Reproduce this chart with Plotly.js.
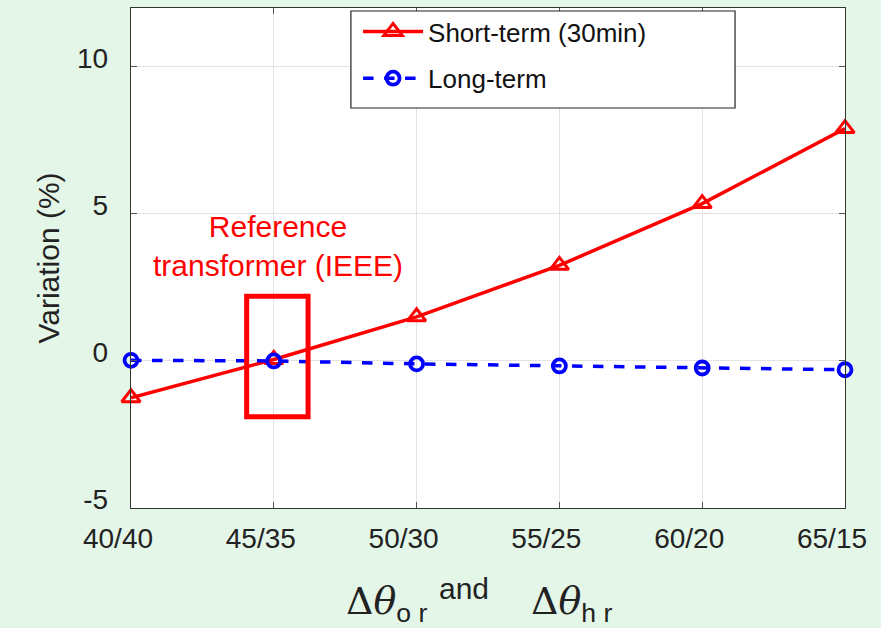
<!DOCTYPE html>
<html>
<head>
<meta charset="utf-8">
<script src="https://cdn.plot.ly/plotly-3.0.1.min.js"></script>
<style>html,body{margin:0;padding:0;background:#e4f6e8;}#chart{width:881px;height:628px;}</style>
</head>
<body>
<div id="chart"></div>
<script>
const categories = ["40/40", "45/35", "50/30", "55/25", "60/20", "65/15"];
const shortTerm = [-1.25, 0.05, 1.5, 3.25, 5.35, 7.9];
const longTerm = [0.02, 0.0, -0.1, -0.17, -0.24, -0.3];
const seriesNames = ["Short-term (30min)", "Long-term"];
const yTicks = [-5, 0, 5, 10];
const yTickLabels = ["-5", "0", "5", "10"];

const xIdx = categories.map((c, i) => i);

const traces = [
  {
    x: xIdx, y: shortTerm, name: seriesNames[0], type: "scatter", mode: "lines+markers",
    line: {color: "#ff0000", width: 3.5},
    marker: {symbol: "triangle-up-open", size: 16, color: "#ff0000", line: {width: 3, color: "#ff0000"}},
    legendgroup: "a", cliponaxis: false
  },
  {
    x: xIdx, y: longTerm, name: seriesNames[1], type: "scatter", mode: "lines+markers",
    line: {color: "#0000ff", width: 3.5, dash: "dash"},
    marker: {symbol: "circle-open", size: 13, color: "#0000ff", line: {width: 3.8, color: "#0000ff"}},
    legendgroup: "b", cliponaxis: false
  }
];

const serif = "font-family:'DejaVu Serif', 'Liberation Serif', serif";
const sans = "font-family:'Liberation Sans', Arial, sans-serif";

const layout = {
  width: 881, height: 628,
  margin: {l: 131, r: 36, t: 8, b: 120},
  paper_bgcolor: "#e4f6e8",
  plot_bgcolor: "#ffffff",
  font: {family: "Liberation Sans, Arial, sans-serif", color: "#222"},
  xaxis: {
    range: [0, 5], tickvals: xIdx, ticktext: categories,
    showgrid: true, gridcolor: "#e3e3e3", gridwidth: 1,
    zeroline: false, showline: true, linecolor: "#333", linewidth: 1.2, mirror: "ticks",
    ticks: "inside", ticklen: 6, tickcolor: "#555",
    tickfont: {size: 28, color: "#222"},
    ticklabelshift: -13, ticklabelstandoff: 5
  },
  yaxis: {
    range: [-5, 12], tickvals: yTicks, ticktext: yTickLabels,
    showgrid: true, gridcolor: "#e3e3e3", gridwidth: 1,
    zeroline: false, showline: true, linecolor: "#333", linewidth: 1.2, mirror: "ticks",
    ticks: "inside", ticklen: 6, tickcolor: "#555",
    tickfont: {size: 28, color: "#222"},
    ticklabelshift: -9, ticklabelstandoff: 16,
    title: {text: "Variation (%)", font: {size: 30, color: "#222"}, standoff: 8}
  },
  showlegend: true,
  legend: {
    x: 0.318, y: 1.0, xanchor: "left", yanchor: "top",
    bgcolor: "rgba(0,0,0,0)", borderwidth: 0,
    font: {size: 26, color: "#111"},
    traceorder: "grouped", tracegroupgap: 10,
    itemwidth: 60, itemsizing: "trace"
  },
  shapes: [
    {type: "rect", xref: "paper", yref: "paper", x0: 0.308, x1: 0.846, y0: 0.80, y1: 0.994,
     line: {color: "#222", width: 1.2}, fillcolor: "#ffffff", layer: "above"},
    {type: "rect", xref: "x", yref: "y", x0: 0.81, x1: 1.24, y0: -1.9, y1: 2.2,
     line: {color: "#ff0000", width: 5}, fillcolor: "rgba(0,0,0,0)"}
  ],
  annotations: [
    {xref: "x", yref: "y", x: 1.03, y: 3.9, text: "Reference<br>transformer (IEEE)",
     showarrow: false, xanchor: "center", yanchor: "middle",
     font: {size: 30, color: "#ff0000"}, align: "center"},
    {xref: "paper", yref: "paper", x: 0.298, y: -0.19, xanchor: "left", yanchor: "middle", showarrow: false,
     text: "<span style=\"" + serif + "\">Δ<i>θ</i></span><sub><span style=\"" + sans + "\">o r</span></sub>",
     font: {size: 38, color: "#222"}},
    {xref: "paper", yref: "paper", x: 0.428, y: -0.16, xanchor: "left", yanchor: "middle", showarrow: false,
     text: "and", font: {size: 30, color: "#222"}},
    {xref: "paper", yref: "paper", x: 0.558, y: -0.19, xanchor: "left", yanchor: "middle", showarrow: false,
     text: "<span style=\"" + serif + "\">Δ<i>θ</i></span><sub><span style=\"" + sans + "\">h r</span></sub>",
     font: {size: 38, color: "#222"}}
  ]
};

Plotly.newPlot("chart", traces, layout, {displayModeBar: false, staticPlot: true});
</script>
</body>
</html>
